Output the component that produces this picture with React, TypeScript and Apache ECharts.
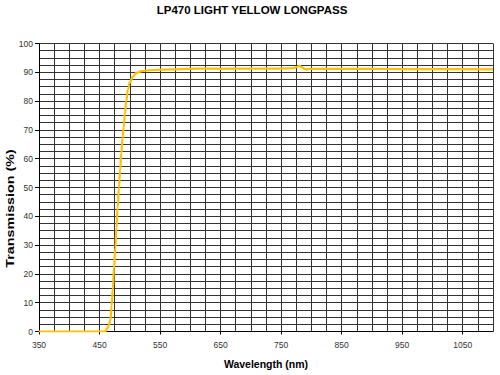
import React, { useEffect, useRef } from "react";
import * as echarts from "echarts";

const wavelengths = [
  350, 400, 450, 459, 462, 465, 468, 470, 472, 474, 476, 478, 480, 482, 484, 486, 488, 490,
  492, 494, 497, 500, 505, 511, 520, 530, 550, 570, 600, 625, 650, 700, 750, 770, 775, 780,
  785, 790, 800, 850, 900, 950, 1000, 1050, 1100,
];
const transmission = [
  0, 0, 0, 0, 0.8, 2, 4, 9, 15, 22, 29, 36, 43, 50, 56, 62, 67, 71,
  76, 80, 84, 86.5, 88.5, 89.8, 90.4, 90.7, 90.9, 91.0, 91.2, 91.3, 91.2, 91.3, 91.3, 91.4, 91.8, 92.2,
  91.6, 91.0, 91.2, 91.2, 91.2, 91.1, 91.1, 91.1, 91.0,
];
const xTickLabels = [350, 450, 550, 650, 750, 850, 950, 1050];
const yTickLabels = [0, 10, 20, 30, 40, 50, 60, 70, 80, 90, 100];

const titleText = "LP470 LIGHT YELLOW LONGPASS";
const xName = "Wavelength (nm)";
const yName = "Transmission (%)";

export default function App() {
  const ref = useRef<HTMLDivElement>(null);
  useEffect(() => {
    if (!ref.current) return;
    const chart = echarts.init(ref.current, null, { renderer: "svg" });
    const data = wavelengths.map((w, i) => [w, transmission[i]]);
    const font = "Arial, 'Liberation Sans', sans-serif";
    const gridLine = { show: true, lineStyle: { color: "#333", width: 1 } };
    chart.setOption({
      animation: false,
      backgroundColor: "#ffffff",
      grid: { left: 39, right: 7, top: 43.5, bottom: 43.5, containLabel: false },
      xAxis: [
        {
          type: "value",
          min: 350,
          max: 1100,
          interval: 25,
          axisLine: { show: true, lineStyle: { color: "#000", width: 1 } },
          axisTick: { show: false },
          axisLabel: { show: false },
          splitLine: gridLine,
        },
        {
          type: "value",
          min: 350,
          max: 1100,
          position: "bottom",
          axisLine: { show: false },
          axisTick: { show: true, customValues: xTickLabels, length: 3, lineStyle: { color: "#000" } },
          axisLabel: {
            customValues: xTickLabels,
            formatter: (v: number) => String(v),
            fontSize: 8.5,
            color: "#333",
            fontFamily: font,
            margin: 9,
          },
          splitLine: { show: false },
        },
      ],
      yAxis: [
        {
          type: "value",
          min: 0,
          max: 100,
          interval: 2.5,
          axisLine: { show: true, lineStyle: { color: "#000", width: 1 } },
          axisTick: { show: false },
          axisLabel: { show: false },
          splitLine: gridLine,
        },
        {
          type: "value",
          min: 0,
          max: 100,
          position: "left",
          axisLine: { show: false },
          axisTick: { show: true, customValues: yTickLabels, length: 4, lineStyle: { color: "#000" } },
          axisLabel: {
            customValues: yTickLabels,
            formatter: (v: number) => String(v),
            fontSize: 8.5,
            color: "#333",
            fontFamily: font,
            margin: 6,
          },
          splitLine: { show: false },
        },
      ],
      graphic: [
        {
          type: "text",
          x: 252,
          y: 10,
          style: {
            text: titleText,
            font: `bold 11.5px ${font}`,
            fill: "#000",
            align: "center",
            verticalAlign: "middle",
          },
        },
        {
          type: "text",
          x: 266,
          y: 363.5,
          style: {
            text: xName,
            font: `bold 10.5px ${font}`,
            fill: "#000",
            align: "center",
            verticalAlign: "middle",
          },
        },
        {
          type: "text",
          x: 10,
          y: 208.5,
          rotation: Math.PI / 2,
          scaleX: 1.3,
          style: {
            text: yName,
            font: `bold 11px ${font}`,
            fill: "#000",
            align: "center",
            verticalAlign: "middle",
          },
        },
      ],
      series: [
        {
          type: "line",
          xAxisIndex: 0,
          yAxisIndex: 0,
          data,
          showSymbol: false,
          smooth: true,
          smoothMonotone: "x",
          lineStyle: { color: "#FFC000", width: 2.2 },
          z: 5,
        },
      ],
    });
    return () => chart.dispose();
  }, []);
  return <div ref={ref} style={{ width: 500, height: 375, position: "absolute", left: 0, top: 0 }} />;
}
